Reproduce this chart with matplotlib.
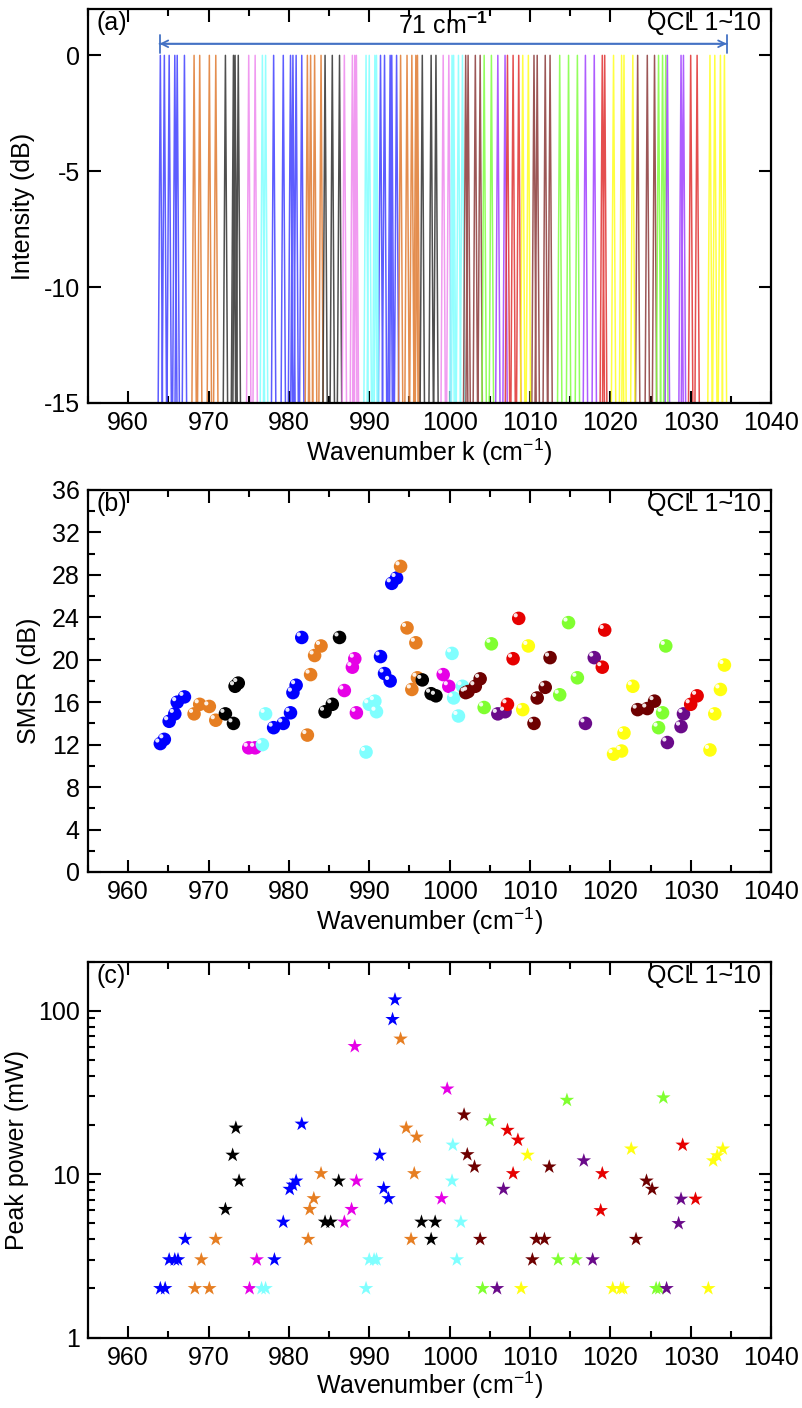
import numpy as np
import matplotlib.pyplot as plt
import matplotlib.transforms as mtransforms
from matplotlib.ticker import MultipleLocator, FixedLocator, NullFormatter, LogLocator

plt.rcParams['font.family'] = ['Liberation Sans', 'DejaVu Sans']
plt.rcParams['mathtext.fontset'] = 'custom'
plt.rcParams['mathtext.rm'] = 'Liberation Sans'
plt.rcParams['mathtext.bf'] = 'Liberation Sans:bold'
plt.rcParams['axes.unicode_minus'] = False
plt.rcParams['font.size'] = 18

# ---- data (QCL 1~10) ----
line_colors = ['#4040ff', '#e07a30', '#303030', '#ee88ee', '#80ffff',
               '#8b3a3a', '#80ff40', '#a040ff', '#e03030', '#ffff20']
ball_colors = ['#0000ff', '#e67e22', '#000000', '#e600e6', '#80ffff',
               '#6e0000', '#80ff30', '#6a0a8a', '#e60000', '#ffff10']

# mode wavenumbers and SMSR (panel b)
smsr_k = [
    [964.0, 964.5, 965.1, 965.8, 966.1, 967.0, 978.1, 979.3, 980.2, 980.5, 980.9, 981.6, 991.4, 991.9, 992.6, 992.8, 993.4],
    [968.2, 968.9, 970.1, 970.9, 982.3, 982.7, 983.2, 984.0, 993.9, 994.7, 995.3, 995.8, 996.0],
    [972.1, 973.1, 973.3, 973.7, 984.5, 985.4, 986.3, 996.6, 997.7, 998.3],
    [975.0, 975.8, 986.9, 987.9, 988.2, 988.4, 999.2, 999.9],
    [976.7, 977.1, 989.6, 990.0, 990.7, 990.9, 1000.3, 1000.5, 1001.1, 1001.6],
    [1002.0, 1002.3, 1003.2, 1003.8, 1010.5, 1010.9, 1011.9, 1012.5, 1023.4, 1024.6, 1025.5],
    [1004.3, 1005.2, 1013.7, 1014.8, 1015.9, 1026.0, 1026.5, 1026.9],
    [1006.0, 1006.9, 1016.9, 1018.0, 1027.1, 1028.8, 1029.1],
    [1007.2, 1007.9, 1008.6, 1019.0, 1019.3, 1030.0, 1030.8],
    [1009.1, 1009.8, 1020.4, 1021.4, 1021.7, 1022.8, 1032.4, 1033.0, 1033.7, 1034.2],
]
smsr_db = [
    [12.1, 12.5, 14.2, 14.9, 16.0, 16.5, 13.6, 14.0, 15.0, 16.9, 17.6, 22.1, 20.3, 18.7, 18.0, 27.2, 27.7],
    [14.9, 15.8, 15.6, 14.3, 12.9, 18.6, 20.4, 21.3, 28.8, 23.0, 17.2, 21.6, 18.3],
    [14.9, 14.0, 17.5, 17.8, 15.1, 15.8, 22.1, 18.1, 16.8, 16.6],
    [11.7, 11.7, 17.1, 19.3, 20.1, 15.0, 18.6, 17.5],
    [12.0, 14.9, 11.3, 15.8, 16.1, 15.1, 20.6, 16.4, 14.7, 17.5],
    [16.9, 17.0, 17.5, 18.2, 14.0, 16.4, 17.4, 20.2, 15.3, 15.4, 16.1],
    [15.5, 21.5, 16.7, 23.5, 18.3, 13.6, 15.0, 21.3],
    [14.9, 15.1, 14.0, 20.2, 12.2, 13.7, 14.9],
    [15.8, 20.1, 23.9, 19.3, 22.8, 15.8, 16.6],
    [15.3, 21.3, 11.1, 11.4, 13.1, 17.5, 11.5, 14.9, 17.2, 19.5],
]

# peak power (panel c)
power_k = [
    [964.0, 964.6, 965.1, 965.8, 966.2, 967.1, 978.2, 979.3, 980.1, 980.5, 980.9, 981.6, 991.3, 991.8, 992.4, 992.9, 993.2],
    [968.3, 969.1, 970.1, 970.9, 982.4, 982.6, 983.1, 984.0, 993.9, 994.6, 995.2, 995.6, 995.9],
    [972.1, 973.0, 973.4, 973.8, 984.5, 985.2, 986.2, 996.5, 997.7, 998.2],
    [975.1, 976.0, 986.9, 987.8, 988.2, 988.4, 999.0, 999.7],
    [976.6, 977.1, 989.6, 990.0, 990.6, 990.9, 1000.3, 1000.4, 1000.9, 1001.4],
    [1001.8, 1002.2, 1003.1, 1003.8, 1010.3, 1010.8, 1011.8, 1012.4, 1023.2, 1024.5, 1025.2],
    [1004.1, 1005.0, 1013.5, 1014.6, 1015.7, 1025.7, 1026.1, 1026.6],
    [1005.9, 1006.7, 1016.7, 1017.8, 1027.0, 1028.5, 1028.8],
    [1007.2, 1007.9, 1008.5, 1018.8, 1019.0, 1029.0, 1030.6],
    [1008.9, 1009.7, 1020.3, 1021.3, 1021.6, 1022.6, 1032.2, 1032.8, 1033.3, 1034.0],
]
power_mw = [
    [2, 2, 3, 3, 3, 4, 3, 5.1, 8.1, 8.6, 9.1, 20.3, 13.1, 8.2, 7.1, 88.7, 117],
    [2, 3, 2, 4, 4, 6.1, 7.1, 10.1, 67.3, 19.2, 4, 10.1, 16.9],
    [6.1, 13.1, 19.2, 9.1, 5.1, 5.1, 9.1, 5.1, 4, 5.1],
    [2, 3, 5.1, 6.1, 60.6, 9.1, 7.1, 33.3],
    [2, 2, 2, 3, 3, 3, 9.1, 15.1, 3, 5.1],
    [23.1, 13.2, 11.1, 4, 3, 4, 4, 11.1, 4, 9.1, 8.1],
    [2, 21.3, 3, 28.4, 3, 2, 2, 29.4],
    [2, 8.1, 12.1, 3, 2, 5, 7.05],
    [18.6, 10.1, 16.2, 6, 10.1, 15.1, 7.05],
    [2, 13.1, 2, 2, 2, 14.3, 2, 12.1, 13, 14.3],
]

span_lo, span_hi = 963.9, 1034.5   # 71 cm-1 tuning range

# ---- figure ----
fig = plt.figure(figsize=(8.03, 14.08), dpi=100)
left, width = 0.1096, 0.8506
ax1 = fig.add_axes([left, 0.7138, width, 0.2798])
ax2 = fig.add_axes([left, 0.3807, width, 0.2713])
ax3 = fig.add_axes([left, 0.0500, width, 0.2670])


def style(ax):
    for s in ax.spines.values():
        s.set_linewidth(1.6)
    ax.tick_params(which='both', direction='in', top=True, right=True,
                   labelsize=18, width=1.5, pad=6)
    ax.tick_params(which='major', length=9)
    ax.tick_params(which='minor', length=5)
    ax.set_xlim(955, 1040)
    ax.xaxis.set_major_locator(MultipleLocator(10))
    ax.xaxis.set_minor_locator(MultipleLocator(5))


# (a) spectra: one narrow line per lasing mode
half = 0.28
floor = -15.6
for k_list, c in zip(smsr_k, line_colors):
    xs, ys = [], []
    for k in k_list:
        xs += [k - half, k, k + half, np.nan]
        ys += [floor, 0, floor, np.nan]
    ax1.plot(xs, ys, color=c, lw=1.1, alpha=0.85)
style(ax1)
ax1.set_ylim(-15, 2)
ax1.yaxis.set_major_locator(FixedLocator([0, -5, -10, -15]))
ax1.set_ylabel('Intensity (dB)', fontsize=18, labelpad=6)
ax1.set_xlabel('Wavenumber k (cm$^{-1}$)', fontsize=18, labelpad=1)
ax1.annotate('', xy=(span_hi, 0.5), xytext=(span_lo, 0.5),
             arrowprops=dict(arrowstyle='<->', color='#4472c4', lw=1.3,
                             shrinkA=0, shrinkB=0, mutation_scale=12))
ax1.annotate('', xy=(span_hi, 0.5), xytext=(span_lo, 0.5),
             arrowprops=dict(arrowstyle='|-|,widthA=0.35,widthB=0.35', color='#4472c4',
                             lw=1.3, shrinkA=0, shrinkB=0))
ax1.text((span_lo + span_hi) / 2, 0.7, '71 cm$^{\\mathbf{-1}}$', ha='center', va='bottom', fontsize=18)
ax1.text(0.012, 0.995, '(a)', transform=ax1.transAxes, ha='left', va='top', fontsize=18)
ax1.text(0.985, 0.995, 'QCL 1~10', transform=ax1.transAxes, ha='right', va='top', fontsize=18)

# (b) SMSR balls
hl = ax2.transData + mtransforms.ScaledTranslation(-2.2 / 72, 2.2 / 72, fig.dpi_scale_trans)
for k_list, v, c in zip(smsr_k, smsr_db, ball_colors):
    ax2.scatter(k_list, v, s=95, color=c, edgecolors='none', zorder=3)
    ax2.scatter(k_list, v, s=9, color='white', edgecolors='none', alpha=0.9,
                transform=hl, zorder=4)
style(ax2)
ax2.set_ylim(0, 36)
ax2.yaxis.set_major_locator(MultipleLocator(4))
ax2.yaxis.set_minor_locator(MultipleLocator(2))
ax2.set_ylabel('SMSR (dB)', fontsize=18, labelpad=8)
ax2.set_xlabel('Wavenumber (cm$^{-1}$)', fontsize=18, labelpad=1)
ax2.text(0.012, 0.995, '(b)', transform=ax2.transAxes, ha='left', va='top', fontsize=18)
ax2.text(0.985, 0.995, 'QCL 1~10', transform=ax2.transAxes, ha='right', va='top', fontsize=18)

# (c) peak power stars
for k_list, v, c in zip(power_k, power_mw, ball_colors):
    ax3.scatter(k_list, v, s=120, marker='*', color=c, edgecolors='none', zorder=3)
style(ax3)
ax3.set_yscale('log')
ax3.set_ylim(1, 200)
ax3.yaxis.set_major_locator(FixedLocator([1, 10, 100]))
ax3.yaxis.set_major_formatter(plt.FuncFormatter(lambda v, p: f'{v:g}'))
ax3.yaxis.set_minor_locator(LogLocator(base=10, subs=np.arange(2, 10)))
ax3.yaxis.set_minor_formatter(NullFormatter())
ax3.set_ylabel('Peak power (mW)', fontsize=18, labelpad=6)
ax3.set_xlabel('Wavenumber (cm$^{-1}$)', fontsize=18, labelpad=0)
ax3.text(0.012, 0.995, '(c)', transform=ax3.transAxes, ha='left', va='top', fontsize=18)
ax3.text(0.985, 0.995, 'QCL 1~10', transform=ax3.transAxes, ha='right', va='top', fontsize=18)

fig.savefig('out.png', dpi=100)
